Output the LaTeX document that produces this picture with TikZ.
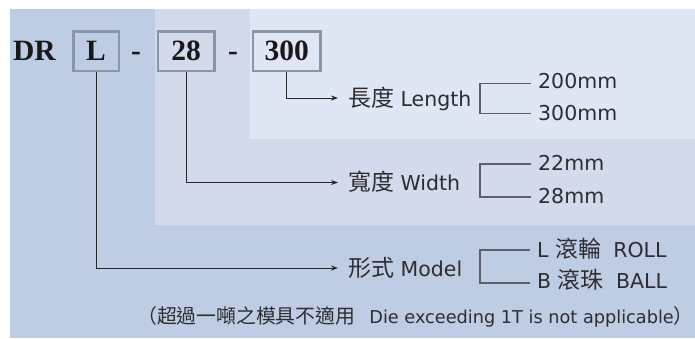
\documentclass[tikz,border=0pt]{standalone}
\usepackage{fontspec}
\setmainfont{DejaVu Sans}
\newfontfamily\cjk{Noto Sans CJK TC}[Scale=1.12]
\newfontfamily\drfont{Liberation Serif}
\usetikzlibrary{arrows.meta}
\definecolor{bgA}{RGB}{190,205,227}
\definecolor{bgB}{RGB}{211,218,236}
\definecolor{bgC}{RGB}{224,231,244}
\definecolor{boxline}{RGB}{138,150,166}
\definecolor{txt}{RGB}{45,45,50}
\definecolor{brkline}{RGB}{95,95,105}
\tikzset{
  codebox/.style={draw=boxline, line width=2.5pt, inner sep=0pt, font=\drfont\bfseries\fontsize{29.5}{30}\selectfont, text=black!90},
  codetext/.style={inner sep=0pt, anchor=base west, font=\drfont\bfseries\fontsize{29.5}{30}\selectfont, text=black!90},
  lbl/.style={inner sep=0pt, anchor=base west, font=\fontsize{20.5}{22}\selectfont, text=txt},
  val/.style={inner sep=0pt, anchor=base west, font=\fontsize{20.5}{22}\selectfont, text=txt},
  conn/.style={draw=black!85, line width=1pt, -{Stealth[length=7pt,width=5pt]}},
  brk/.style={draw=brkline, line width=1.3pt},
}
\begin{document}
\begin{tikzpicture}[x=1pt,y=-1pt]
\useasboundingbox (0,0) rectangle (695,338);
\fill[white] (0,0) rectangle (695,338);
\fill[bgA] (10,9) rectangle (695,338);
\fill[bgB] (155,9) rectangle (695,225);
\fill[bgC] (250,9) rectangle (695,139);

% code line
\node[codetext] (dr) at (13,60) {DR};
\node[codebox, minimum width=45.5pt, minimum height=39.5pt] (bL) at (96,51) {L};
\node[codetext, anchor=base] (d1) at (136,60) {-};
\node[codebox, minimum width=56.5pt, minimum height=39.5pt] (b28) at (186.2,51) {28};
\node[codetext, anchor=base] (d2) at (233,60) {-};
\node[codebox, minimum width=67.5pt, minimum height=39.5pt] (b300) at (286.7,51) {300};

% labels
\node[lbl] (len) at (348,106) {{\cjk 長度} Length};
\node[lbl] (wid) at (348,190) {{\cjk 寬度} Width};
\node[lbl] (mod) at (348,276) {{\cjk 形式} Model};

\coordinate (lenIn) at ([xshift=-10pt,yshift=8pt]len.base west);
\coordinate (widIn) at ([xshift=-10pt,yshift=7.5pt]wid.base west);
\coordinate (modIn) at ([xshift=-10pt,yshift=8pt]mod.base west);

\draw[conn] (b300.south) |- (lenIn);
\draw[conn] (b28.south) |- (widIn);
\draw[conn] (bL.south) |- (modIn);

% values
\node[val] (v200) at (538,88) {200mm};
\node[val] (v300) at (538,120) {300mm};
\node[val] (v22) at (538,170) {22mm};
\node[val] (v28) at (538,203) {28mm};
\node[val] (vL) at (537,257) {L {\cjk 滾輪}\hspace{0.6em}ROLL};
\node[val] (vB) at (537,288) {B {\cjk 滾珠}\hspace{0.6em}BALL};

\draw[brk] ([xshift=-7pt,yshift=4.5pt]v200.base west) -- ++(-51,0) |- ([xshift=-7pt,yshift=6.5pt]v300.base west);
\draw[brk] ([xshift=-7pt,yshift=6pt]v22.base west) -- ++(-51,0) |- ([xshift=-7pt,yshift=6pt]v28.base west);
\draw[brk] ([xshift=-7pt,yshift=7pt]vL.base west) -- ++(-50,0) |- ([xshift=-7pt,yshift=5pt]vB.base west);

% note
\node[inner sep=0pt, anchor=base west, font=\fontsize{17.7}{19}\selectfont, text=txt] (note) at (137,323)
  {{\cjk （超過一噸之模具不適用}\hspace{0.8em}Die exceeding 1T is not applicable{\cjk ）}};
\end{tikzpicture}
\end{document}
